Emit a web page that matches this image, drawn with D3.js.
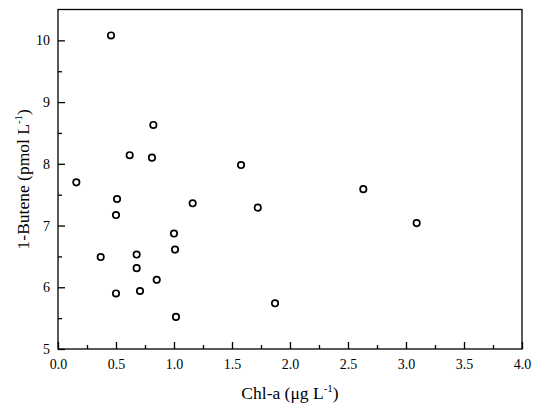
<!DOCTYPE html>
<html>
<head>
<meta charset="utf-8">
<script src="https://cdn.jsdelivr.net/npm/d3@7"></script>
<style>
  body { margin: 0; background: #fff; }
  text { font-family: "Liberation Serif", "Times New Roman", serif; fill: #000; }
</style>
</head>
<body>
<div id="dataViz"></div>
<script>
/* set dimensions and margins of the graph */
const margin = { top: 9.5, right: 13, bottom: 61, left: 58 },
      width = 535 - margin.left - margin.right,
      height = 410 - margin.top - margin.bottom;

/* data */
const chla   = [0.457, 0.822, 0.618, 0.810, 1.578, 0.158, 0.509, 1.161, 0.500, 1.722, 2.632,
                3.092, 1.000, 1.009, 0.368, 0.678, 0.678, 0.851, 0.500, 0.707, 1.017, 1.871];
const butene = [10.08, 8.63, 8.14, 8.10, 7.98, 7.70, 7.43, 7.36, 7.17, 7.29, 7.59,
                7.04, 6.87, 6.61, 6.49, 6.53, 6.31, 6.12, 5.90, 5.94, 5.52, 5.74];
const xTicks = [0, 0.5, 1, 1.5, 2, 2.5, 3, 3.5, 4];
const xMinor = [0.25, 0.75, 1.25, 1.75, 2.25, 2.75, 3.25, 3.75];
const yTicks = [5, 6, 7, 8, 9, 10];
const yMinor = [5.5, 6.5, 7.5, 8.5, 9.5];

/* create svg object */
const svg = d3.select("#dataViz")
    .append("svg")
    .attr("width", 535)
    .attr("height", 410)
  .append("g")
    .attr("transform", `translate(${margin.left}, ${margin.top})`);

/* scales */
const x = d3.scaleLinear().domain([0, 4]).range([0, width]);
const y = d3.scaleLinear().domain([5, 10.5]).range([height, 0]);

/* frame */
svg.append("rect")
    .attr("x", 0).attr("y", 0)
    .attr("width", width).attr("height", height)
    .attr("fill", "none")
    .attr("stroke", "#000")
    .attr("stroke-width", 1.3);

/* x axis, ticks pointing inside */
svg.append("g")
    .attr("transform", `translate(0, ${height})`)
    .call(d3.axisBottom(x).tickValues(xTicks).tickSize(-7).tickPadding(10).tickFormat(d3.format(".1f")));
svg.append("g")
    .attr("transform", `translate(0, ${height})`)
    .call(d3.axisBottom(x).tickValues(xMinor).tickSize(-4).tickFormat(""));

/* y axis */
svg.append("g")
    .call(d3.axisLeft(y).tickValues(yTicks).tickSize(-7).tickPadding(8).tickFormat(d3.format("d")));
svg.append("g")
    .call(d3.axisLeft(y).tickValues(yMinor).tickSize(-4).tickFormat(""));

svg.selectAll(".domain").remove();
svg.selectAll(".tick line").attr("stroke", "#000").attr("stroke-width", 1.3);
svg.selectAll(".tick text")
    .style("font-family", "Liberation Serif")
    .style("font-size", "14px")
    .attr("fill", "#000");

/* points */
svg.selectAll("circle.pt")
    .data(chla.map((c, i) => ({ c: c, b: butene[i] })))
    .enter()
    .append("circle")
    .attr("class", "pt")
    .attr("cx", d => x(d.c))
    .attr("cy", d => y(d.b))
    .attr("r", 3.2)
    .attr("fill", "#fff")
    .attr("stroke", "#000")
    .attr("stroke-width", 1.7);

/* axis titles */
const xt = svg.append("text")
    .attr("x", width / 2)
    .attr("y", height + 49.5)
    .attr("text-anchor", "middle")
    .style("font-size", "17.5px");
xt.append("tspan").text("Chl-a (\u03bcg L");
xt.append("tspan").attr("dy", -7).style("font-size", "11px").text("-1");
xt.append("tspan").attr("dy", 7).text(")");

const yt = svg.append("text")
    .attr("transform", `translate(${-29.5}, ${height / 2}) rotate(-90)`)
    .attr("text-anchor", "middle")
    .style("font-size", "17.5px");
yt.append("tspan").text("1-Butene (pmol L");
yt.append("tspan").attr("dy", -7).style("font-size", "11px").text("-1");
yt.append("tspan").attr("dy", 7).text(")");
</script>
</body>
</html>
